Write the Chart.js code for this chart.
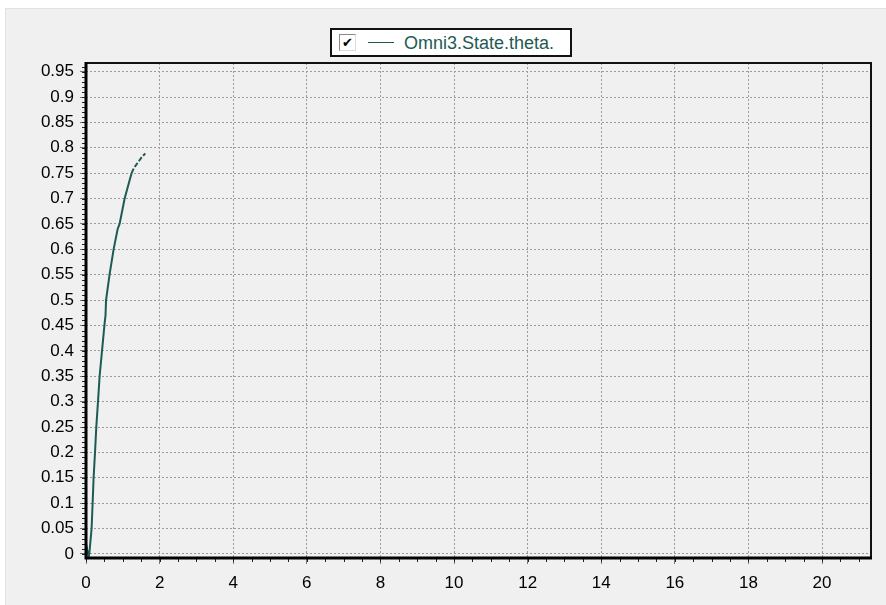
<!DOCTYPE html>
<html>
<head>
<meta charset="utf-8">
<script src="https://cdn.jsdelivr.net/npm/chart.js@4/dist/chart.umd.min.js"></script>
<style>
  html, body { margin: 0; padding: 0; background: #fff; }
  body { width: 886px; height: 605px; position: relative; overflow: hidden; }
  #panel {
    position: absolute; left: 5px; top: 8px; right: 0; bottom: 0;
    background: #f0f0f0; border-top: 1px solid #e2e2e2; border-left: 1px solid #e2e2e2;
  }
  #plot { position: absolute; left: 0; top: 0; }
  #legend {
    position: absolute; left: 330px; top: 28px; width: 242px; height: 29px;
    box-sizing: border-box; border: 2px solid #111; background: #fff;
    font-family: "Liberation Sans", Arial, sans-serif;
  }
  #legend .chk {
    position: absolute; left: 7px; top: 4px; width: 17px; height: 17px;
    box-sizing: border-box; border: 1px solid #8a8a8a; border-right-color: #ddd; border-bottom-color: #ddd;
    background: #fff; font: bold 13px "DejaVu Sans", sans-serif; line-height: 15px; text-align: center; color: #000;
  }
  #legend .swatch {
    position: absolute; left: 36px; top: 12px; width: 26px; height: 0;
    border-top: 1.5px solid #1e5a54;
  }
  #legend .lbl {
    position: absolute; left: 72px; top: 3px; font-size: 18px; line-height: 20px; color: #1e5a54;
  }
</style>
</head>
<body>
<div id="panel"></div>
<canvas id="plot" width="886" height="605"></canvas>
<div id="legend"><span class="chk">✔</span><span class="swatch"></span><span class="lbl">Omni3.State.theta.</span></div>
<script>
// series: Omni3.State.theta. against time
var SERIES_NAME = 'Omni3.State.theta.';
var TIME  = [0.0, 0.07, 0.09, 0.152, 0.18, 0.207, 0.245, 0.28, 0.326, 0.37, 0.435, 0.50, 0.53, 0.545, 0.64, 0.75, 0.86, 0.913, 1.05, 1.2, 1.24, 1.3, 1.4, 1.5, 1.61];
var THETA = [0.02, -0.006, 0.0, 0.05, 0.1, 0.15, 0.2, 0.25, 0.3, 0.35, 0.4, 0.45, 0.47, 0.5, 0.55, 0.6, 0.64, 0.65, 0.7, 0.74, 0.75, 0.76, 0.77, 0.78, 0.789];

var X_TICKS = [0, 2, 4, 6, 8, 10, 12, 14, 16, 18, 20];
var Y_TICKS = [0, 0.05, 0.1, 0.15, 0.2, 0.25, 0.3, 0.35, 0.4, 0.45, 0.5, 0.55, 0.6, 0.65, 0.7, 0.75, 0.8, 0.85, 0.9, 0.95];

var LINE = '#1e5a54';
var GRID = '#9a9a9a';
var FONT = { family: '"Liberation Sans", Arial, sans-serif', size: 17 };

// heavy left/bottom axes, thin top/right frame, minor tick marks
var frame = {
  id: 'frame',
  afterDatasetsDraw: function(chart) {
    var ctx = chart.ctx, a = chart.chartArea;
    var xs = chart.scales.x, ys = chart.scales.y;
    ctx.save();
    ctx.strokeStyle = '#222';
    ctx.lineWidth = 1;
    for (var v = 0; v <= xs.max; v += 0.5) {
      var px = Math.round(xs.getPixelForValue(v)) + 0.5;
      ctx.beginPath(); ctx.moveTo(px, a.bottom); ctx.lineTo(px, a.bottom + 4); ctx.stroke();
    }
    for (var k = 0; k <= 96; k++) {
      var py = Math.round(ys.getPixelForValue(k / 100)) + 0.5;
      ctx.beginPath(); ctx.moveTo(a.left - 4, py); ctx.lineTo(a.left, py); ctx.stroke();
    }
    ctx.strokeStyle = '#111';
    ctx.lineWidth = 2;
    ctx.beginPath();
    ctx.moveTo(a.left, a.top); ctx.lineTo(a.right, a.top); ctx.lineTo(a.right, a.bottom);
    ctx.stroke();
    ctx.strokeStyle = '#000';
    ctx.lineWidth = 3;
    ctx.beginPath();
    ctx.moveTo(a.left, a.top - 1); ctx.lineTo(a.left, a.bottom); ctx.lineTo(a.right + 1, a.bottom);
    ctx.stroke();
    ctx.restore();
  }
};

var points = TIME.map(function(t, i) { return { x: t, y: THETA[i] }; });

new Chart(document.getElementById('plot'), {
  type: 'scatter',
  data: {
    datasets: [{
      label: SERIES_NAME,
      data: points,
      showLine: true,
      borderColor: LINE,
      borderWidth: 2,
      pointRadius: 0,
      tension: 0,
      segment: {
        borderDash: function(c) { return c.p0.parsed.y >= 0.75 ? [5, 2] : undefined; }
      }
    }]
  },
  options: {
    responsive: false,
    animation: false,
    layout: { padding: { top: 63, right: 15, left: 0, bottom: 0 } },
    plugins: { legend: { display: false }, tooltip: { enabled: false } },
    scales: {
      x: {
        type: 'linear', min: 0, max: 21.33,
        afterBuildTicks: function(s) { s.ticks = X_TICKS.map(function(v) { return { value: v }; }); },
        afterFit: function(s) { s.height = 47; },
        grid: { color: GRID, tickColor: '#777', tickLength: 6, lineWidth: 1 },
        border: { display: false, dash: [2, 2] },
        ticks: { color: '#000', font: FONT, padding: 9, maxRotation: 0, autoSkip: false,
                 callback: function(v) { return String(v); } }
      },
      y: {
        type: 'linear', min: -0.008, max: 0.967,
        afterBuildTicks: function(s) { s.ticks = Y_TICKS.map(function(v) { return { value: v }; }); },
        afterFit: function(s) { s.width = 86; },
        grid: { color: GRID, tickColor: '#777', tickLength: 6, lineWidth: 1 },
        border: { display: false, dash: [2, 2] },
        ticks: { color: '#000', font: FONT, padding: 6, autoSkip: false,
                 callback: function(v) { return String(+v.toFixed(2)); } }
      }
    }
  },
  plugins: [frame]
});
</script>
</body>
</html>
